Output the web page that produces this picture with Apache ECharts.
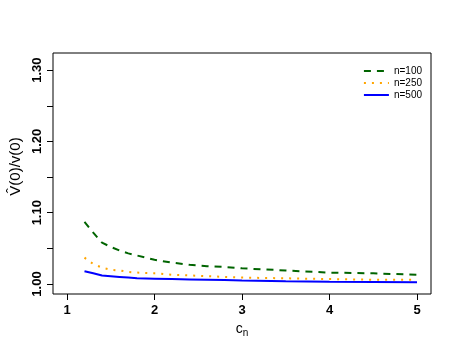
<!DOCTYPE html>
<html>
<head>
<meta charset="utf-8">
<script src="https://cdn.jsdelivr.net/npm/echarts@6/dist/echarts.min.js"></script>
<style>
  html, body { margin: 0; padding: 0; background: #fff; }
  #chart { width: 458px; height: 360px; }
</style>
</head>
<body>
<div id="chart"></div>
<script>
// c_n grid
const cn = [1.2, 1.3, 1.4, 1.5, 1.6, 1.7, 1.8, 2.0, 2.2, 2.4, 2.6, 2.8, 3.0, 3.5, 4.0, 4.5, 5.0];

// ratio V^(0)/v(0) for each sample size
const n100 = [1.087, 1.072, 1.058, 1.052, 1.047, 1.043, 1.040, 1.034, 1.030, 1.027, 1.025, 1.024, 1.022, 1.019, 1.016, 1.015, 1.013];
const n250 = [1.037, 1.028, 1.023, 1.020, 1.019, 1.017, 1.016, 1.015, 1.013, 1.012, 1.011, 1.010, 1.009, 1.008, 1.007, 1.006, 1.006];
const n500 = [1.018, 1.015, 1.012, 1.011, 1.010, 1.009, 1.008, 1.0075, 1.007, 1.0065, 1.006, 1.0055, 1.005, 1.004, 1.0033, 1.003, 1.0025];

const xTicks = [1, 2, 3, 4, 5];
const yTicks = [1.00, 1.05, 1.10, 1.15, 1.20, 1.25, 1.30];
const yLabels = [1.00, 1.10, 1.20, 1.30];

const pair = (ys) => cn.map((x, i) => [x, ys[i]]);

const chart = echarts.init(document.getElementById("chart"));

const font = "Liberation Sans, Arial, sans-serif";

chart.setOption({
  animation: false,
  backgroundColor: "#fff",
  grid: {
    left: 53, right: 27, top: 53, bottom: 66,
    show: true, borderColor: "#000", borderWidth: 1, backgroundColor: "transparent",
  },
  legend: {
    orient: "vertical",
    right: 31, top: 61,
    itemWidth: 25, itemHeight: 10, itemGap: 2,
    itemStyle: { opacity: 0 },
    textStyle: { fontFamily: font, fontSize: 10, color: "#000" },
    data: ["n=100", "n=250", "n=500"],
  },
  xAxis: {
    type: "value",
    min: 0.84, max: 5.16,
    axisLine: { show: false },
    splitLine: { show: false },
    axisTick: { show: true, length: 6, lineStyle: { color: "#000" }, customValues: xTicks },
    axisLabel: {
      customValues: xTicks, color: "#000", fontFamily: font, fontWeight: "bold",
      fontSize: 13, margin: 10,
    },
    name: "{c|c}{n|n}",
    nameLocation: "middle",
    nameGap: 25,
    nameTextStyle: {
      rich: {
        c: { fontFamily: font, fontSize: 14, color: "#000" },
        n: { fontFamily: font, fontSize: 10, color: "#000", padding: [8, 0, 0, 0] },
      },
    },
  },
  yAxis: {
    type: "value",
    min: 0.986, max: 1.324,
    axisLine: { show: false },
    splitLine: { show: false },
    axisTick: { show: true, length: 6, lineStyle: { color: "#000" }, customValues: yTicks },
    axisLabel: {
      customValues: yLabels, rotate: 90, color: "#000", fontFamily: font,
      fontWeight: "bold", fontSize: 13, margin: 9,
      formatter: (v) => v.toFixed(2),
    },
    name: "V\u0302(0)/v(0)",
    nameLocation: "middle",
    nameGap: 23,
    nameTextStyle: { fontFamily: font, fontSize: 15, color: "#000", padding: [0, 0, 0, 14] },
  },
  series: [
    {
      name: "n=100", type: "line", data: pair(n100), showSymbol: false, symbol: "none",
      lineStyle: { color: "#006400", width: 2, type: [7, 6] }, itemStyle: { color: "#006400" },
    },
    {
      name: "n=250", type: "line", data: pair(n250), showSymbol: false, symbol: "none",
      lineStyle: { color: "#FFA500", width: 2, type: [2, 6] }, itemStyle: { color: "#FFA500" },
    },
    {
      name: "n=500", type: "line", data: pair(n500), showSymbol: false, symbol: "none",
      lineStyle: { color: "#0000FF", width: 2 }, itemStyle: { color: "#0000FF" },
    },
  ],
});
</script>
</body>
</html>
